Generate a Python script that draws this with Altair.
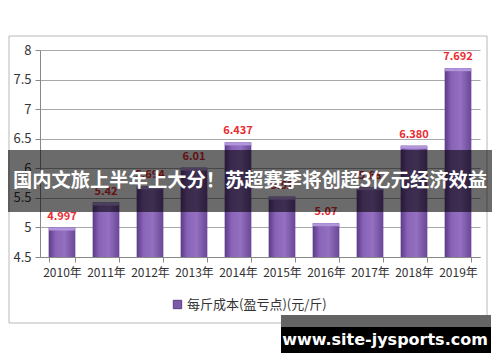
import altair as alt
import pandas as pd

years = ["2010年", "2011年", "2012年", "2013年", "2014年", "2015年", "2016年", "2017年", "2018年", "2019年"]
values = [4.997, 5.42, 5.694, 6.01, 6.437, 5.52, 5.07, 5.68, 6.380, 7.692]
labels = ["4.997", "5.42", "5.694", "6.01", "6.437", "5.52", "5.07", "5.68", "6.380", "7.692"]
y_ticks = [4.5, 5, 5.5, 6, 6.5, 7, 7.5, 8]
series_name = "每斤成本(盈亏点)(元/斤)"
title_text = "国内文旅上半年上大分！苏超赛季将创超3亿元经济效益"
watermark = "www.site-jysports.com"

df = pd.DataFrame({"year": years, "value": values, "label": labels, "series": series_name})
one = pd.DataFrame({"k": [0]})

FONT = "Noto Sans CJK SC"

x = alt.X("year:N", sort=years, title=None,
          scale=alt.Scale(paddingInner=0.4, paddingOuter=0.2),
          axis=alt.Axis(labelAngle=0, labelFont=FONT, labelFontSize=12, labelColor="#333",
                        tickBand="extent", tickColor="#888", tickSize=5, domainColor="#888",
                        labelPadding=5, grid=False))
y = alt.Y("value:Q", title=None,
          scale=alt.Scale(domain=[4.5, 8], nice=False, zero=False),
          axis=alt.Axis(values=y_ticks, labelExpr="toString(datum.value)", labelFont=FONT,
                        labelFontSize=13, labelColor="#333", gridColor="#a8a8a8", gridWidth=1,
                        domainColor="#888", tickColor="#888", tickSize=5, labelPadding=4))

base = alt.Chart(df)
deco = alt.Chart(one)

border = deco.mark_rect(filled=False, stroke="#b8b8b8", strokeWidth=1).encode(
    x=alt.value(-31), x2=alt.value(447), y=alt.value(-14), y2=alt.value(273))

legend_bars = base.mark_bar().encode(
    x=x, y=y, y2=alt.datum(4.5),
    color=alt.Color("series:N", scale=alt.Scale(range=["#7d5aa8"]),
                    legend=alt.Legend(orient="none", legendX=131, legendY=248, title=None,
                                      symbolType="square", symbolSize=70, symbolStrokeColor="#5a3d80",
                                      symbolStrokeWidth=1, labelFont=FONT, labelFontSize=13,
                                      labelColor="#333", labelOffset=3)))

grad = alt.LinearGradient(gradient="linear", x1=0, x2=1, y1=0, y2=0, stops=[
    alt.GradientStop(color="#5b3b86", offset=0),
    alt.GradientStop(color="#8a63b8", offset=0.25),
    alt.GradientStop(color="#9370c0", offset=0.6),
    alt.GradientStop(color="#6a4896", offset=1)])

bars = base.mark_bar(fill=grad).encode(x=x, y=y, y2=alt.datum(4.5))

cap = base.transform_calculate(top="datum.value - 0.05").mark_bar(color="#b296dc").encode(
    x=x, y=y, y2="top:Q")

text = base.mark_text(color="#ea2a30", font=FONT, fontSize=11, fontWeight="bold",
                      baseline="bottom", dy=-6).encode(x=x, y=y, text="label:N")

banner = deco.mark_rect(fill="black", opacity=0.58).encode(
    x=alt.value(-32), x2=alt.value(452), y=alt.value(100), y2=alt.value(162))

banner_text = deco.mark_text(text=title_text, color="white", font=FONT, fontSize=19.3,
                             fontWeight="bold", align="center", baseline="middle").encode(
    x=alt.value(210), y=alt.value(131))

wm_grey = deco.mark_rect(fill="#646464").encode(
    x=alt.value(241), x2=alt.value(451), y=alt.value(265), y2=alt.value(277))
wm_black = deco.mark_rect(fill="black").encode(
    x=alt.value(241), x2=alt.value(451), y=alt.value(277), y2=alt.value(303))
wm_text = deco.mark_text(text=watermark, color="white", font="DejaVu Sans", fontSize=16,
                         fontWeight="bold", align="center", baseline="middle").encode(
    x=alt.value(345), y=alt.value(290))

chart = alt.layer(border, legend_bars, bars, cap, text, banner, banner_text,
                  wm_grey, wm_black, wm_text).properties(
    width=440, height=207,
    autosize=alt.AutoSizeParams(type="none"),
    padding={"left": 32, "top": 42, "right": 12, "bottom": 97},
).configure_view(stroke=None)

chart.save("out.html", embed_options={"renderer": "svg", "actions": False})
